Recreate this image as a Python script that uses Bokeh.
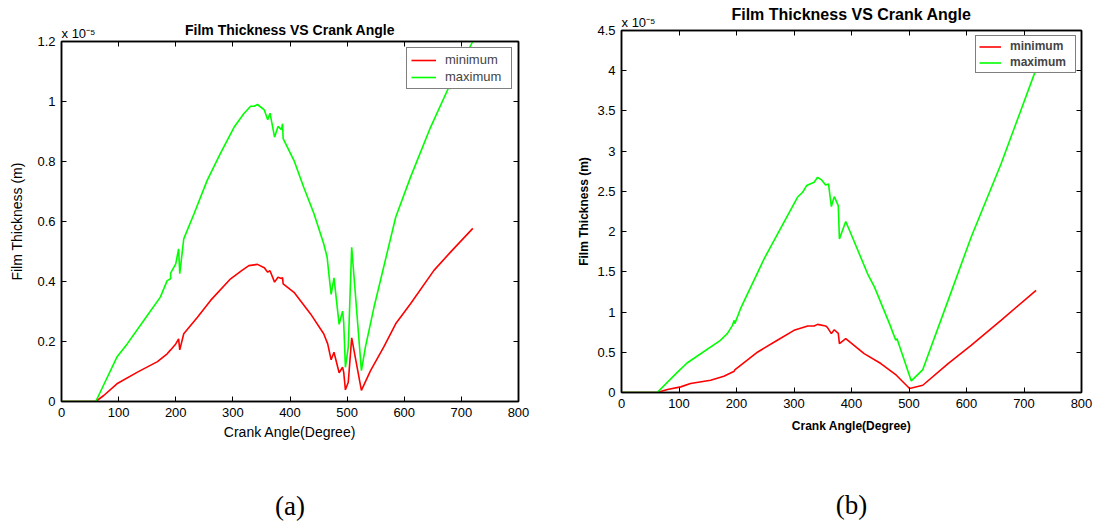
from bokeh.plotting import figure
from bokeh.models import LinearAxis, FixedTicker, CustomJSTickFormatter, Range1d
from bokeh.layouts import row
from bokeh.embed import file_html
from bokeh.resources import INLINE

# ---------------- data (film thickness in units of 1e-5 m) ----------------
x_ticks = [0, 100, 200, 300, 400, 500, 600, 700, 800]
y_ticks_a = [0, 0.2, 0.4, 0.6, 0.8, 1.0, 1.2]
y_ticks_b = [0, 0.5, 1.0, 1.5, 2.0, 2.5, 3.0, 3.5, 4.0, 4.5]

# panel (a)
a_max_angle = [0, 60, 75, 97, 115, 144, 173, 185, 191, 191, 200, 205, 207, 214, 232, 255, 278, 302, 319,
               331, 337, 343, 355, 361, 365, 373, 379, 385, 387, 388, 407, 424, 442, 459, 465, 468, 472,
               477, 486, 492, 494, 497, 502, 508, 525, 532, 547, 585, 611, 646, 681, 720]
a_max_film = [0, 0, 0.06, 0.148, 0.192, 0.27, 0.348, 0.403, 0.409, 0.428, 0.459, 0.509, 0.426, 0.542,
              0.626, 0.737, 0.826, 0.914, 0.959, 0.984, 0.984, 0.99, 0.972, 0.939, 0.961, 0.881, 0.917,
              0.906, 0.926, 0.876, 0.803, 0.714, 0.626, 0.526, 0.481, 0.426, 0.357, 0.412, 0.257, 0.301,
              0.264, 0.114, 0.181, 0.514, 0.103, 0.181, 0.314, 0.614, 0.748, 0.914, 1.06, 1.2]
a_min_angle = [0, 60, 74, 97, 133, 168, 185, 191, 200, 205, 207, 214, 238, 261, 296, 316, 328, 343, 355,
               361, 365, 373, 379, 385, 387, 388, 407, 436, 459, 466, 472, 477, 486, 492, 494, 497, 502,
               508, 525, 541, 564, 585, 611, 652, 681, 720]
a_min_film = [0, 0, 0.02, 0.059, 0.098, 0.133, 0.159, 0.172, 0.192, 0.209, 0.172, 0.226, 0.281, 0.337,
              0.409, 0.437, 0.453, 0.457, 0.446, 0.431, 0.436, 0.398, 0.414, 0.41, 0.413, 0.392, 0.364,
              0.292, 0.226, 0.192, 0.139, 0.164, 0.096, 0.114, 0.098, 0.039, 0.064, 0.212, 0.037, 0.103,
              0.181, 0.259, 0.326, 0.437, 0.498, 0.577]

# panel (b)
b_max_angle = [0, 62, 97, 114, 172, 184, 193, 196, 197, 207, 248, 306, 315, 322, 335, 341, 348, 355, 360,
               365, 370, 377, 379, 390, 399, 428, 440, 466, 477, 479, 504, 524, 568, 608, 660, 721]
b_max_film = [0, 0, 0.25, 0.367, 0.649, 0.732, 0.835, 0.897, 0.856, 1.042, 1.662, 2.427, 2.489, 2.572,
              2.613, 2.675, 2.643, 2.58, 2.593, 2.311, 2.435, 2.324, 1.91, 2.125, 1.973, 1.476, 1.31,
              0.856, 0.649, 0.67, 0.144, 0.285, 1.145, 1.93, 2.84, 4.02]
b_min_angle = [0, 62, 80, 103, 120, 155, 178, 196, 197, 237, 271, 300, 324, 335, 341, 355, 358, 365, 370,
               377, 379, 390, 422, 451, 478, 501, 524, 568, 608, 660, 721]
b_min_film = [0, 0, 0.037, 0.07, 0.112, 0.153, 0.202, 0.264, 0.28, 0.504, 0.649, 0.773, 0.827, 0.827,
              0.847, 0.827, 0.81, 0.732, 0.78, 0.735, 0.608, 0.67, 0.484, 0.36, 0.215, 0.05, 0.09, 0.36,
              0.587, 0.897, 1.27]

title_text = "Film Thickness VS Crank Angle"
x_label = "Crank Angle(Degree)"
y_label = "Film Thickness (m)"
exponent_text = "x 10\u207b\u2075"

FONT = "Liberation Sans"
SERIF = "Liberation Serif"
EMPTY = "return ''"


def style_axis(ax, size="13px"):
    ax.axis_line_color = "black"
    ax.axis_line_width = 1.5
    ax.major_tick_in = 5
    ax.major_tick_out = 0
    ax.major_tick_line_color = "black"
    ax.major_tick_line_width = 1
    ax.minor_tick_in = 0
    ax.minor_tick_out = 0
    ax.minor_tick_line_color = None
    ax.major_label_text_font = FONT
    ax.major_label_text_font_size = size
    ax.major_label_text_color = "black"


def bare_axis(ticks, size="1px"):
    ax = LinearAxis(ticker=FixedTicker(ticks=ticks), formatter=CustomJSTickFormatter(code=EMPTY))
    ax.axis_line_color = None
    ax.major_tick_line_color = None
    ax.minor_tick_line_color = None
    ax.major_label_text_font = FONT
    ax.major_label_text_font_size = size
    ax.major_label_text_color = "black"
    ax.major_label_standoff = 0
    return ax


def panel(min_x, min_y, max_x, max_y, yticks, ymax, frame_w, frame_h, borders, bold, fs):
    left, right, top, bottom = borders
    p = figure(frame_width=frame_w, frame_height=frame_h, title=None, frame_align=False,
               min_border_left=left, min_border_right=right, min_border_top=top,
               min_border_bottom=bottom, output_backend="svg", toolbar_location=None,
               x_range=Range1d(0, 800), y_range=Range1d(0, ymax))
    p.xgrid.visible = False
    p.ygrid.visible = False
    p.outline_line_color = "black"
    p.outline_line_width = 1.5
    p.background_fill_color = "white"
    p.border_fill_color = "white"

    p.line(min_x, min_y, line_color="#ff0000", line_width=1.6, legend_label="minimum")
    p.line(max_x, max_y, line_color="#00ff00", line_width=1.6, legend_label="maximum")

    weight = "bold" if bold else "normal"
    xa = p.xaxis[0]
    ya = p.yaxis[0]
    xa.ticker = FixedTicker(ticks=x_ticks)
    ya.ticker = FixedTicker(ticks=yticks)
    ya.formatter = CustomJSTickFormatter(code="return String(Math.round(tick*10)/10)")
    style_axis(xa)
    style_axis(ya)
    xa.axis_label = x_label
    ya.axis_label = y_label
    for ax in (xa, ya):
        ax.axis_label_text_font = FONT
        ax.axis_label_text_font_style = weight
        ax.axis_label_text_font_size = fs["axis"]
        ax.axis_label_text_color = "black"
        ax.major_label_standoff = 6
    xa.axis_label_standoff = fs["xstand"]
    ya.axis_label_standoff = fs["ystand"]

    # top axis with inward ticks only
    top_ax = LinearAxis(ticker=FixedTicker(ticks=x_ticks), formatter=CustomJSTickFormatter(code=EMPTY))
    style_axis(top_ax, size="1px")
    top_ax.major_label_standoff = 0
    p.add_layout(top_ax, "above")

    # exponent label next to the top-left corner, chart title as axis label
    anchor = 800 * fs["exp_px"] / frame_w
    head_ax = bare_axis([anchor], size="13px")
    head_ax.major_label_overrides = {anchor: exponent_text}
    head_ax.major_label_standoff = fs["exp_stand"]
    head_ax.axis_label = title_text
    head_ax.axis_label_text_font = FONT
    head_ax.axis_label_text_font_style = "bold"
    head_ax.axis_label_text_font_size = fs["title"]
    head_ax.axis_label_text_color = "black"
    head_ax.axis_label_standoff = fs["title_stand"]
    p.add_layout(head_ax, "above")

    right_ax = LinearAxis(ticker=FixedTicker(ticks=yticks), formatter=CustomJSTickFormatter(code=EMPTY))
    style_axis(right_ax, size="1px")
    right_ax.major_label_standoff = 0
    p.add_layout(right_ax, "right")

    # caption below the chart
    cap_ax = bare_axis([])
    cap_ax.axis_label = fs["caption"]
    cap_ax.axis_label_text_font = SERIF
    cap_ax.axis_label_text_font_style = "normal"
    cap_ax.axis_label_text_font_size = "27px"
    cap_ax.axis_label_text_color = "black"
    cap_ax.axis_label_standoff = fs["cap_stand"]
    p.add_layout(cap_ax, "below")

    lg = p.legend[0]
    lg.location = "top_right"
    lg.margin = fs["lmargin"]
    lg.padding = fs["lpad"]
    lg.spacing = 2
    lg.label_height = fs["lh"]
    lg.glyph_height = fs["lh"]
    lg.glyph_width = fs["gw"]
    lg.label_width = fs["lw"]
    lg.label_standoff = 9
    lg.label_text_font = FONT
    lg.label_text_font_style = weight
    lg.label_text_font_size = fs["legend"]
    lg.border_line_color = "black"
    lg.border_line_width = 1.2
    lg.background_fill_alpha = 1.0
    return p


pa = panel(a_min_angle, a_min_film, a_max_angle, a_max_film, y_ticks_a, 1.2, 457, 360,
           (61, 29, 41, 124), False,
           dict(axis="14px", xstand=4, ystand=9, lmargin=6, lpad=4, lh=14, gw=25, lw=62,
                legend="13px", title="14px", exp_px=17, exp_stand=-5, title_stand=-15,
                cap_stand=48, caption="(a)"))
pb = panel(b_min_angle, b_min_film, b_max_angle, b_max_film, y_ticks_b, 4.5, 460, 362,
           (74, 14, 30, 133), True,
           dict(axis="12px", xstand=8, ystand=3, lmargin=5, lpad=3, lh=13, gw=22, lw=62,
                legend="12px", title="16px", exp_px=17, exp_stand=-5, title_stand=-11,
                cap_stand=54, caption="(b)"))

layout = row(pa, pb)
open("out.html", "w").write(file_html(layout, INLINE))
